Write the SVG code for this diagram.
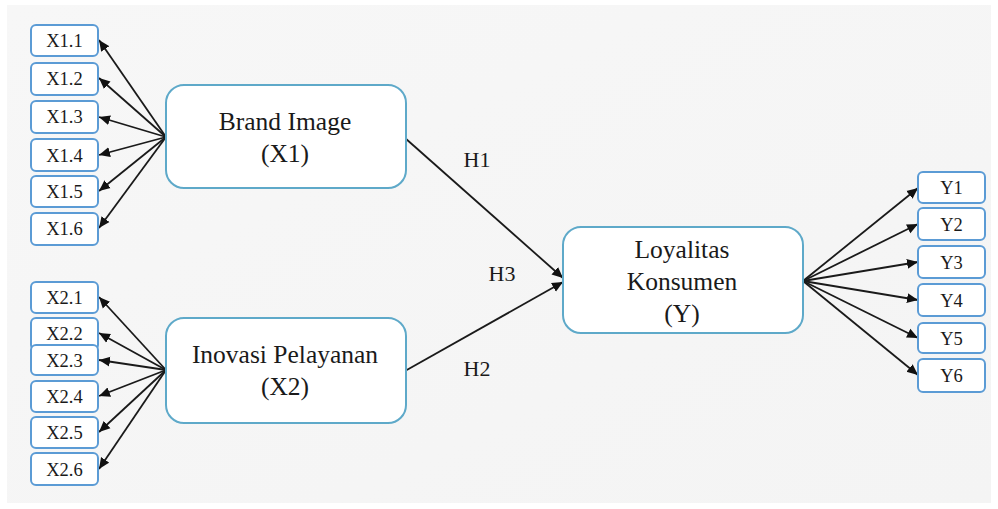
<svg xmlns="http://www.w3.org/2000/svg" width="998" height="509" viewBox="0 0 998 509">
<defs>
<marker id="ah" viewBox="0 0 10 10" refX="10" refY="5" markerWidth="11" markerHeight="11" markerUnits="userSpaceOnUse" orient="auto">
<path d="M0,0.5 L10,5 L0,9.5 Z" fill="#111"/>
</marker>
<linearGradient id="bg" x1="0" y1="0" x2="1" y2="1">
<stop offset="0" stop-color="#f7f7f7"/>
<stop offset="1" stop-color="#f4f4f4"/>
</linearGradient>
</defs>
<style>
.sm{fill:#fff;stroke:#5b9bd5;stroke-width:2}
.lg{fill:#fff;stroke:#5ea9c9;stroke-width:2}
text{font-family:"Liberation Serif","Times New Roman",Times,"DejaVu Serif",serif;fill:#1a1a1a;text-anchor:middle}
.st{font-size:18.5px}
.lt{font-size:25.5px}
.ht{font-size:22px}
.c{stroke:#1a1a1a;stroke-width:1.8;fill:none;marker-end:url(#ah)}
</style>
<rect x="0" y="0" width="998" height="509" fill="#fff"/>
<rect x="7" y="5" width="984" height="498" fill="url(#bg)"/>

<g id="connectors">
<line class="c" x1="166" y1="137" x2="99" y2="40"/>
<line class="c" x1="166" y1="137" x2="99" y2="78"/>
<line class="c" x1="166" y1="137" x2="99" y2="117"/>
<line class="c" x1="166" y1="137" x2="99" y2="155"/>
<line class="c" x1="166" y1="137" x2="99" y2="191"/>
<line class="c" x1="166" y1="137" x2="99" y2="228"/>
<line class="c" x1="166" y1="370" x2="99" y2="297"/>
<line class="c" x1="166" y1="370" x2="99" y2="333"/>
<line class="c" x1="166" y1="370" x2="99" y2="360"/>
<line class="c" x1="166" y1="370" x2="99" y2="396"/>
<line class="c" x1="166" y1="370" x2="99" y2="432"/>
<line class="c" x1="166" y1="370" x2="99" y2="469"/>
<line class="c" x1="405" y1="138" x2="563" y2="278"/>
<line class="c" x1="405" y1="371" x2="563" y2="282"/>
<line class="c" x1="803" y1="281" x2="918" y2="188"/>
<line class="c" x1="803" y1="281" x2="918" y2="224"/>
<line class="c" x1="803" y1="281" x2="918" y2="262"/>
<line class="c" x1="803" y1="281" x2="918" y2="300"/>
<line class="c" x1="803" y1="281" x2="918" y2="338"/>
<line class="c" x1="803" y1="281" x2="918" y2="375"/>
</g>

<g id="labels">
<text class="ht" x="477" y="167">H1</text>
<text class="ht" x="502" y="281">H3</text>
<text class="ht" x="477" y="376">H2</text>
</g>

<g id="X1.1"><rect class="sm" x="31" y="25" width="67" height="31" rx="5"/><text class="st" x="64.5" y="47">X1.1</text></g>
<g id="X1.2"><rect class="sm" x="31" y="63" width="67" height="32" rx="5"/><text class="st" x="64.5" y="85">X1.2</text></g>
<g id="X1.3"><rect class="sm" x="31" y="101" width="67" height="32" rx="5"/><text class="st" x="64.5" y="123">X1.3</text></g>
<g id="X1.4"><rect class="sm" x="31" y="139" width="67" height="32" rx="5"/><text class="st" x="64.5" y="162">X1.4</text></g>
<g id="X1.5"><rect class="sm" x="31" y="176" width="67" height="31" rx="5"/><text class="st" x="64.5" y="198">X1.5</text></g>
<g id="X1.6"><rect class="sm" x="31" y="213" width="67" height="32" rx="5"/><text class="st" x="64.5" y="235">X1.6</text></g>

<g id="X2.1"><rect class="sm" x="31" y="282" width="67" height="31" rx="5"/><text class="st" x="64.5" y="304">X2.1</text></g>
<g id="X2.2"><rect class="sm" x="31" y="318" width="67" height="32" rx="5"/><text class="st" x="64.5" y="340">X2.2</text></g>
<g id="X2.3"><rect class="sm" x="31" y="345" width="67" height="30" rx="5"/><text class="st" x="64.5" y="367">X2.3</text></g>
<g id="X2.4"><rect class="sm" x="31" y="381" width="67" height="31" rx="5"/><text class="st" x="64.5" y="403">X2.4</text></g>
<g id="X2.5"><rect class="sm" x="31" y="417" width="67" height="31" rx="5"/><text class="st" x="64.5" y="439">X2.5</text></g>
<g id="X2.6"><rect class="sm" x="31" y="453" width="67" height="32" rx="5"/><text class="st" x="64.5" y="476">X2.6</text></g>

<g id="X1"><rect class="lg" x="166" y="85" width="240" height="103" rx="18"/><text class="lt" x="285" y="130">Brand Image</text><text class="lt" x="285" y="162">(X1)</text></g>
<g id="X2"><rect class="lg" x="166" y="318" width="240" height="105" rx="18"/><text class="lt" x="285" y="363">Inovasi Pelayanan</text><text class="lt" x="285" y="395">(X2)</text></g>
<g id="Y"><rect class="lg" x="563" y="227" width="240" height="106" rx="18"/><text class="lt" x="682" y="258">Loyalitas</text><text class="lt" x="682" y="290">Konsumen</text><text class="lt" x="682" y="322">(Y)</text></g>

<g id="Y1"><rect class="sm" x="918" y="172" width="67" height="31" rx="5"/><text class="st" x="951.5" y="194">Y1</text></g>
<g id="Y2"><rect class="sm" x="918" y="208" width="67" height="32" rx="5"/><text class="st" x="951.5" y="231">Y2</text></g>
<g id="Y3"><rect class="sm" x="918" y="246" width="67" height="32" rx="5"/><text class="st" x="951.5" y="269">Y3</text></g>
<g id="Y4"><rect class="sm" x="918" y="284" width="67" height="32" rx="5"/><text class="st" x="951.5" y="307">Y4</text></g>
<g id="Y5"><rect class="sm" x="918" y="323" width="67" height="30" rx="5"/><text class="st" x="951.5" y="345">Y5</text></g>
<g id="Y6"><rect class="sm" x="918" y="359" width="67" height="33" rx="5"/><text class="st" x="951.5" y="382">Y6</text></g>
</svg>
